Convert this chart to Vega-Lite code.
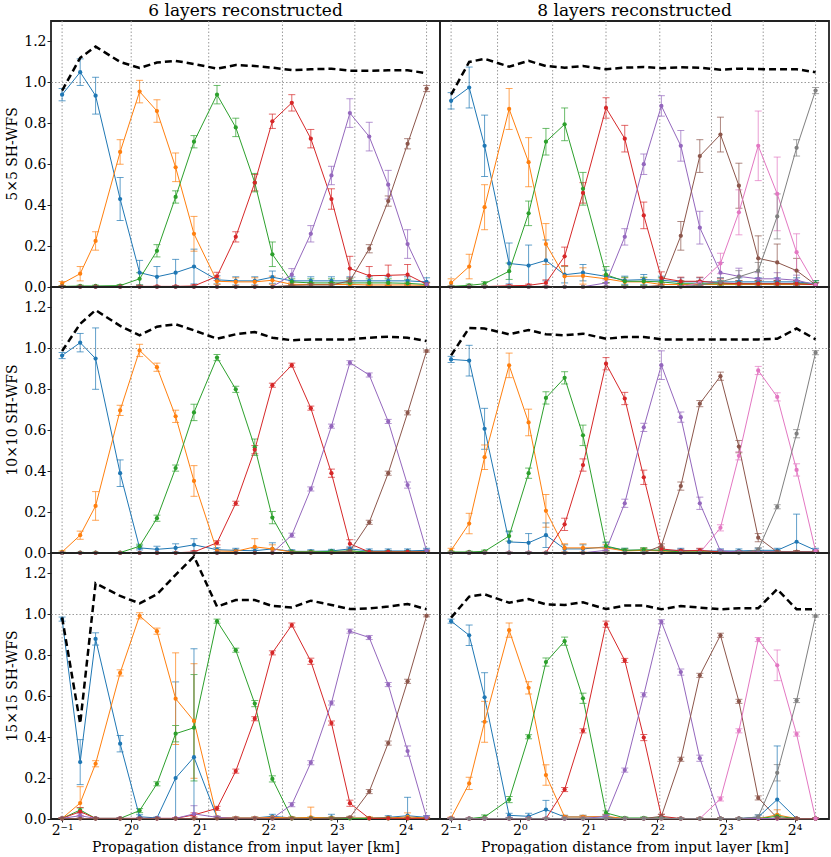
{
  "$schema": "https://vega.github.io/schema/vega-lite/v6.json",
  "padding": {"left": 5, "top": 2, "right": 0, "bottom": 0},
  "bounds": "flush",
  "background": "white",
  "config": {
    "font": "DejaVu Serif",
    "view": {"stroke": "#222222", "strokeWidth": 1.8},
    "axis": {
      "labelFont": "DejaVu Serif", "labelFontSize": 14, "labelColor": "black",
      "titleFont": "DejaVu Serif", "titleFontSize": 14, "titleFontWeight": "normal", "titleColor": "black",
      "tickColor": "#222222", "tickSize": 4, "labelPadding": 1, "domain": false, "minExtent": 0
    }
  },
  "data": {"values": [
{"w":5,"n":6,"s":1,"x":0.5,"y":0.94,"e":0.03},{"w":5,"n":6,"s":1,"x":0.6,"y":1.05,"e":0.065},{"w":5,"n":6,"s":1,"x":0.701,"y":0.935,"e":0.09},{"w":5,"n":6,"s":1,"x":0.898,"y":0.43,"e":0.105},{"w":5,"n":6,"s":1,"x":1.093,"y":0.07,"e":0.06},{"w":5,"n":6,"s":1,"x":1.302,"y":0.05,"e":0.05},{"w":5,"n":6,"s":1,"x":1.572,"y":0.07,"e":0.065},{"w":5,"n":6,"s":1,"x":1.892,"y":0.1,"e":0.085},{"w":5,"n":6,"s":1,"x":2.387,"y":0.035,"e":0.02},{"w":5,"n":6,"s":1,"x":2.884,"y":0.03,"e":0.02},{"w":5,"n":6,"s":1,"x":3.494,"y":0.03,"e":0.02},{"w":5,"n":6,"s":1,"x":4.173,"y":0.048,"e":0.03},{"w":5,"n":6,"s":1,"x":5.077,"y":0.03,"e":0.02},{"w":5,"n":6,"s":1,"x":6.151,"y":0.03,"e":0.02},{"w":5,"n":6,"s":1,"x":7.574,"y":0.03,"e":0.02},{"w":5,"n":6,"s":1,"x":9.124,"y":0.03,"e":0.02},{"w":5,"n":6,"s":1,"x":11.09,"y":0.03,"e":0.02},{"w":5,"n":6,"s":1,"x":13.43,"y":0.03,"e":0.02},{"w":5,"n":6,"s":1,"x":16.33,"y":0.03,"e":0.02},{"w":5,"n":6,"s":1,"x":19.78,"y":0.025,"e":0.02},
{"w":5,"n":6,"s":2,"x":0.5,"y":0.017,"e":0.01},{"w":5,"n":6,"s":2,"x":0.6,"y":0.065,"e":0.035},{"w":5,"n":6,"s":2,"x":0.701,"y":0.225,"e":0.045},{"w":5,"n":6,"s":2,"x":0.898,"y":0.66,"e":0.06},{"w":5,"n":6,"s":2,"x":1.093,"y":0.955,"e":0.055},{"w":5,"n":6,"s":2,"x":1.302,"y":0.86,"e":0.055},{"w":5,"n":6,"s":2,"x":1.572,"y":0.585,"e":0.07},{"w":5,"n":6,"s":2,"x":1.892,"y":0.26,"e":0.085},{"w":5,"n":6,"s":2,"x":2.387,"y":0.028,"e":0.015},{"w":5,"n":6,"s":2,"x":2.884,"y":0.025,"e":0.02},{"w":5,"n":6,"s":2,"x":3.494,"y":0.025,"e":0.02},{"w":5,"n":6,"s":2,"x":4.173,"y":0.033,"e":0.02},{"w":5,"n":6,"s":2,"x":5.077,"y":0.013,"e":0.01},{"w":5,"n":6,"s":2,"x":6.151,"y":0.012,"e":0.01},{"w":5,"n":6,"s":2,"x":7.574,"y":0.012,"e":0.01},{"w":5,"n":6,"s":2,"x":9.124,"y":0.012,"e":0.01},{"w":5,"n":6,"s":2,"x":11.09,"y":0.01,"e":0.01},{"w":5,"n":6,"s":2,"x":13.43,"y":0.01,"e":0.01},{"w":5,"n":6,"s":2,"x":16.33,"y":0.01,"e":0.01},{"w":5,"n":6,"s":2,"x":19.78,"y":0.008,"e":0.008},
{"w":5,"n":6,"s":3,"x":0.5,"y":0.003,"e":0.003},{"w":5,"n":6,"s":3,"x":0.6,"y":0.005,"e":0.004},{"w":5,"n":6,"s":3,"x":0.701,"y":0.005,"e":0.004},{"w":5,"n":6,"s":3,"x":0.898,"y":0.007,"e":0.005},{"w":5,"n":6,"s":3,"x":1.093,"y":0.04,"e":0.03},{"w":5,"n":6,"s":3,"x":1.302,"y":0.177,"e":0.03},{"w":5,"n":6,"s":3,"x":1.572,"y":0.44,"e":0.03},{"w":5,"n":6,"s":3,"x":1.892,"y":0.71,"e":0.03},{"w":5,"n":6,"s":3,"x":2.387,"y":0.94,"e":0.045},{"w":5,"n":6,"s":3,"x":2.884,"y":0.78,"e":0.045},{"w":5,"n":6,"s":3,"x":3.494,"y":0.51,"e":0.045},{"w":5,"n":6,"s":3,"x":4.173,"y":0.16,"e":0.06},{"w":5,"n":6,"s":3,"x":5.077,"y":0.025,"e":0.015},{"w":5,"n":6,"s":3,"x":6.151,"y":0.02,"e":0.02},{"w":5,"n":6,"s":3,"x":7.574,"y":0.02,"e":0.02},{"w":5,"n":6,"s":3,"x":9.124,"y":0.02,"e":0.02},{"w":5,"n":6,"s":3,"x":11.09,"y":0.02,"e":0.02},{"w":5,"n":6,"s":3,"x":13.43,"y":0.02,"e":0.02},{"w":5,"n":6,"s":3,"x":16.33,"y":0.018,"e":0.02},{"w":5,"n":6,"s":3,"x":19.78,"y":0.012,"e":0.01},
{"w":5,"n":6,"s":4,"x":0.5,"y":0.002,"e":0.002},{"w":5,"n":6,"s":4,"x":0.6,"y":0.002,"e":0.002},{"w":5,"n":6,"s":4,"x":0.701,"y":0.002,"e":0.002},{"w":5,"n":6,"s":4,"x":0.898,"y":0.002,"e":0.002},{"w":5,"n":6,"s":4,"x":1.093,"y":0.003,"e":0.003},{"w":5,"n":6,"s":4,"x":1.302,"y":0.003,"e":0.003},{"w":5,"n":6,"s":4,"x":1.572,"y":0.003,"e":0.003},{"w":5,"n":6,"s":4,"x":1.892,"y":0.005,"e":0.005},{"w":5,"n":6,"s":4,"x":2.387,"y":0.052,"e":0.02},{"w":5,"n":6,"s":4,"x":2.884,"y":0.245,"e":0.025},{"w":5,"n":6,"s":4,"x":3.494,"y":0.51,"e":0.04},{"w":5,"n":6,"s":4,"x":4.173,"y":0.81,"e":0.035},{"w":5,"n":6,"s":4,"x":5.077,"y":0.9,"e":0.04},{"w":5,"n":6,"s":4,"x":6.151,"y":0.725,"e":0.045},{"w":5,"n":6,"s":4,"x":7.574,"y":0.43,"e":0.05},{"w":5,"n":6,"s":4,"x":9.124,"y":0.09,"e":0.06},{"w":5,"n":6,"s":4,"x":11.09,"y":0.055,"e":0.045},{"w":5,"n":6,"s":4,"x":13.43,"y":0.057,"e":0.05},{"w":5,"n":6,"s":4,"x":16.33,"y":0.06,"e":0.05},{"w":5,"n":6,"s":4,"x":19.78,"y":0.013,"e":0.01},
{"w":5,"n":6,"s":5,"x":0.5,"y":0.001,"e":0.001},{"w":5,"n":6,"s":5,"x":0.6,"y":0.001,"e":0.001},{"w":5,"n":6,"s":5,"x":0.701,"y":0.001,"e":0.001},{"w":5,"n":6,"s":5,"x":0.898,"y":0.001,"e":0.001},{"w":5,"n":6,"s":5,"x":1.093,"y":0.001,"e":0.001},{"w":5,"n":6,"s":5,"x":1.302,"y":0.001,"e":0.001},{"w":5,"n":6,"s":5,"x":1.572,"y":0.001,"e":0.001},{"w":5,"n":6,"s":5,"x":1.892,"y":0.001,"e":0.001},{"w":5,"n":6,"s":5,"x":2.387,"y":0.001,"e":0.001},{"w":5,"n":6,"s":5,"x":2.884,"y":0.001,"e":0.001},{"w":5,"n":6,"s":5,"x":3.494,"y":0.001,"e":0.001},{"w":5,"n":6,"s":5,"x":4.173,"y":0.001,"e":0.001},{"w":5,"n":6,"s":5,"x":5.077,"y":0.06,"e":0.03},{"w":5,"n":6,"s":5,"x":6.151,"y":0.26,"e":0.04},{"w":5,"n":6,"s":5,"x":7.574,"y":0.545,"e":0.045},{"w":5,"n":6,"s":5,"x":9.124,"y":0.85,"e":0.07},{"w":5,"n":6,"s":5,"x":11.09,"y":0.735,"e":0.07},{"w":5,"n":6,"s":5,"x":13.43,"y":0.5,"e":0.07},{"w":5,"n":6,"s":5,"x":16.33,"y":0.21,"e":0.07},{"w":5,"n":6,"s":5,"x":19.78,"y":0.013,"e":0.01},
{"w":5,"n":6,"s":6,"x":0.5,"y":0.001,"e":0.001},{"w":5,"n":6,"s":6,"x":0.6,"y":0.001,"e":0.001},{"w":5,"n":6,"s":6,"x":0.701,"y":0.001,"e":0.001},{"w":5,"n":6,"s":6,"x":0.898,"y":0.001,"e":0.001},{"w":5,"n":6,"s":6,"x":1.093,"y":0.001,"e":0.001},{"w":5,"n":6,"s":6,"x":1.302,"y":0.001,"e":0.001},{"w":5,"n":6,"s":6,"x":1.572,"y":0.001,"e":0.001},{"w":5,"n":6,"s":6,"x":1.892,"y":0.001,"e":0.001},{"w":5,"n":6,"s":6,"x":2.387,"y":0.001,"e":0.001},{"w":5,"n":6,"s":6,"x":2.884,"y":0.001,"e":0.001},{"w":5,"n":6,"s":6,"x":3.494,"y":0.001,"e":0.001},{"w":5,"n":6,"s":6,"x":4.173,"y":0.001,"e":0.001},{"w":5,"n":6,"s":6,"x":5.077,"y":0.008,"e":0.005},{"w":5,"n":6,"s":6,"x":6.151,"y":0.01,"e":0.008},{"w":5,"n":6,"s":6,"x":7.574,"y":0.01,"e":0.01},{"w":5,"n":6,"s":6,"x":9.124,"y":0.03,"e":0.015},{"w":5,"n":6,"s":6,"x":11.09,"y":0.187,"e":0.02},{"w":5,"n":6,"s":6,"x":13.43,"y":0.42,"e":0.025},{"w":5,"n":6,"s":6,"x":16.33,"y":0.7,"e":0.025},{"w":5,"n":6,"s":6,"x":19.78,"y":0.97,"e":0.015},
{"w":5,"n":6,"s":0,"x":0.5,"y":0.96},{"w":5,"n":6,"s":0,"x":0.6,"y":1.12},{"w":5,"n":6,"s":0,"x":0.701,"y":1.175},{"w":5,"n":6,"s":0,"x":0.898,"y":1.1},{"w":5,"n":6,"s":0,"x":1.093,"y":1.07},{"w":5,"n":6,"s":0,"x":1.302,"y":1.097},{"w":5,"n":6,"s":0,"x":1.572,"y":1.105},{"w":5,"n":6,"s":0,"x":1.892,"y":1.09},{"w":5,"n":6,"s":0,"x":2.387,"y":1.067},{"w":5,"n":6,"s":0,"x":2.884,"y":1.085},{"w":5,"n":6,"s":0,"x":3.494,"y":1.08},{"w":5,"n":6,"s":0,"x":4.173,"y":1.072},{"w":5,"n":6,"s":0,"x":5.077,"y":1.06},{"w":5,"n":6,"s":0,"x":6.151,"y":1.064},{"w":5,"n":6,"s":0,"x":7.574,"y":1.067},{"w":5,"n":6,"s":0,"x":9.124,"y":1.057},{"w":5,"n":6,"s":0,"x":11.09,"y":1.057},{"w":5,"n":6,"s":0,"x":13.43,"y":1.059},{"w":5,"n":6,"s":0,"x":16.33,"y":1.059},{"w":5,"n":6,"s":0,"x":19.78,"y":1.045},

{"w":5,"n":8,"s":1,"x":0.5,"y":0.91,"e":0.04},{"w":5,"n":8,"s":1,"x":0.6,"y":0.975,"e":0.1},{"w":5,"n":8,"s":1,"x":0.701,"y":0.69,"e":0.15},{"w":5,"n":8,"s":1,"x":0.898,"y":0.115,"e":0.1},{"w":5,"n":8,"s":1,"x":1.093,"y":0.105,"e":0.1},{"w":5,"n":8,"s":1,"x":1.302,"y":0.13,"e":0.1},{"w":5,"n":8,"s":1,"x":1.572,"y":0.06,"e":0.04},{"w":5,"n":8,"s":1,"x":1.892,"y":0.07,"e":0.04},{"w":5,"n":8,"s":1,"x":2.387,"y":0.052,"e":0.03},{"w":5,"n":8,"s":1,"x":2.884,"y":0.033,"e":0.02},{"w":5,"n":8,"s":1,"x":3.494,"y":0.036,"e":0.025},{"w":5,"n":8,"s":1,"x":4.173,"y":0.033,"e":0.02},{"w":5,"n":8,"s":1,"x":5.077,"y":0.025,"e":0.02},{"w":5,"n":8,"s":1,"x":6.151,"y":0.025,"e":0.02},{"w":5,"n":8,"s":1,"x":7.574,"y":0.025,"e":0.02},{"w":5,"n":8,"s":1,"x":9.124,"y":0.025,"e":0.02},{"w":5,"n":8,"s":1,"x":11.09,"y":0.025,"e":0.02},{"w":5,"n":8,"s":1,"x":13.43,"y":0.025,"e":0.02},{"w":5,"n":8,"s":1,"x":16.33,"y":0.025,"e":0.02},{"w":5,"n":8,"s":1,"x":19.78,"y":0.016,"e":0.015},
{"w":5,"n":8,"s":2,"x":0.5,"y":0.02,"e":0.02},{"w":5,"n":8,"s":2,"x":0.6,"y":0.1,"e":0.06},{"w":5,"n":8,"s":2,"x":0.701,"y":0.39,"e":0.11},{"w":5,"n":8,"s":2,"x":0.898,"y":0.87,"e":0.1},{"w":5,"n":8,"s":2,"x":1.093,"y":0.61,"e":0.12},{"w":5,"n":8,"s":2,"x":1.302,"y":0.21,"e":0.1},{"w":5,"n":8,"s":2,"x":1.572,"y":0.052,"e":0.05},{"w":5,"n":8,"s":2,"x":1.892,"y":0.054,"e":0.04},{"w":5,"n":8,"s":2,"x":2.387,"y":0.04,"e":0.02},{"w":5,"n":8,"s":2,"x":2.884,"y":0.025,"e":0.02},{"w":5,"n":8,"s":2,"x":3.494,"y":0.025,"e":0.02},{"w":5,"n":8,"s":2,"x":4.173,"y":0.012,"e":0.01},{"w":5,"n":8,"s":2,"x":5.077,"y":0.012,"e":0.01},{"w":5,"n":8,"s":2,"x":6.151,"y":0.012,"e":0.01},{"w":5,"n":8,"s":2,"x":7.574,"y":0.012,"e":0.01},{"w":5,"n":8,"s":2,"x":9.124,"y":0.012,"e":0.01},{"w":5,"n":8,"s":2,"x":11.09,"y":0.012,"e":0.01},{"w":5,"n":8,"s":2,"x":13.43,"y":0.012,"e":0.01},{"w":5,"n":8,"s":2,"x":16.33,"y":0.012,"e":0.01},{"w":5,"n":8,"s":2,"x":19.78,"y":0.012,"e":0.01},
{"w":5,"n":8,"s":3,"x":0.5,"y":0.003,"e":0.003},{"w":5,"n":8,"s":3,"x":0.6,"y":0.008,"e":0.006},{"w":5,"n":8,"s":3,"x":0.701,"y":0.016,"e":0.01},{"w":5,"n":8,"s":3,"x":0.898,"y":0.077,"e":0.04},{"w":5,"n":8,"s":3,"x":1.093,"y":0.36,"e":0.06},{"w":5,"n":8,"s":3,"x":1.302,"y":0.71,"e":0.065},{"w":5,"n":8,"s":3,"x":1.572,"y":0.795,"e":0.08},{"w":5,"n":8,"s":3,"x":1.892,"y":0.48,"e":0.08},{"w":5,"n":8,"s":3,"x":2.387,"y":0.06,"e":0.04},{"w":5,"n":8,"s":3,"x":2.884,"y":0.028,"e":0.02},{"w":5,"n":8,"s":3,"x":3.494,"y":0.028,"e":0.02},{"w":5,"n":8,"s":3,"x":4.173,"y":0.025,"e":0.02},{"w":5,"n":8,"s":3,"x":5.077,"y":0.016,"e":0.015},{"w":5,"n":8,"s":3,"x":6.151,"y":0.016,"e":0.015},{"w":5,"n":8,"s":3,"x":7.574,"y":0.016,"e":0.015},{"w":5,"n":8,"s":3,"x":9.124,"y":0.016,"e":0.015},{"w":5,"n":8,"s":3,"x":11.09,"y":0.016,"e":0.015},{"w":5,"n":8,"s":3,"x":13.43,"y":0.016,"e":0.015},{"w":5,"n":8,"s":3,"x":16.33,"y":0.016,"e":0.015},{"w":5,"n":8,"s":3,"x":19.78,"y":0.016,"e":0.015},
{"w":5,"n":8,"s":4,"x":0.5,"y":0.002,"e":0.002},{"w":5,"n":8,"s":4,"x":0.6,"y":0.002,"e":0.002},{"w":5,"n":8,"s":4,"x":0.701,"y":0.002,"e":0.002},{"w":5,"n":8,"s":4,"x":0.898,"y":0.006,"e":0.004},{"w":5,"n":8,"s":4,"x":1.093,"y":0.008,"e":0.006},{"w":5,"n":8,"s":4,"x":1.302,"y":0.02,"e":0.015},{"w":5,"n":8,"s":4,"x":1.572,"y":0.15,"e":0.045},{"w":5,"n":8,"s":4,"x":1.892,"y":0.46,"e":0.05},{"w":5,"n":8,"s":4,"x":2.387,"y":0.875,"e":0.05},{"w":5,"n":8,"s":4,"x":2.884,"y":0.725,"e":0.065},{"w":5,"n":8,"s":4,"x":3.494,"y":0.35,"e":0.065},{"w":5,"n":8,"s":4,"x":4.173,"y":0.044,"e":0.03},{"w":5,"n":8,"s":4,"x":5.077,"y":0.028,"e":0.02},{"w":5,"n":8,"s":4,"x":6.151,"y":0.028,"e":0.02},{"w":5,"n":8,"s":4,"x":7.574,"y":0.02,"e":0.02},{"w":5,"n":8,"s":4,"x":9.124,"y":0.016,"e":0.015},{"w":5,"n":8,"s":4,"x":11.09,"y":0.016,"e":0.015},{"w":5,"n":8,"s":4,"x":13.43,"y":0.016,"e":0.015},{"w":5,"n":8,"s":4,"x":16.33,"y":0.016,"e":0.015},{"w":5,"n":8,"s":4,"x":19.78,"y":0.011,"e":0.01},
{"w":5,"n":8,"s":5,"x":0.5,"y":0.001,"e":0.001},{"w":5,"n":8,"s":5,"x":0.6,"y":0.001,"e":0.001},{"w":5,"n":8,"s":5,"x":0.701,"y":0.001,"e":0.001},{"w":5,"n":8,"s":5,"x":0.898,"y":0.001,"e":0.001},{"w":5,"n":8,"s":5,"x":1.093,"y":0.001,"e":0.001},{"w":5,"n":8,"s":5,"x":1.302,"y":0.001,"e":0.001},{"w":5,"n":8,"s":5,"x":1.572,"y":0.001,"e":0.001},{"w":5,"n":8,"s":5,"x":1.892,"y":0.001,"e":0.001},{"w":5,"n":8,"s":5,"x":2.387,"y":0.02,"e":0.015},{"w":5,"n":8,"s":5,"x":2.884,"y":0.245,"e":0.04},{"w":5,"n":8,"s":5,"x":3.494,"y":0.6,"e":0.05},{"w":5,"n":8,"s":5,"x":4.173,"y":0.885,"e":0.05},{"w":5,"n":8,"s":5,"x":5.077,"y":0.69,"e":0.075},{"w":5,"n":8,"s":5,"x":6.151,"y":0.29,"e":0.08},{"w":5,"n":8,"s":5,"x":7.574,"y":0.07,"e":0.05},{"w":5,"n":8,"s":5,"x":9.124,"y":0.052,"e":0.04},{"w":5,"n":8,"s":5,"x":11.09,"y":0.04,"e":0.03},{"w":5,"n":8,"s":5,"x":13.43,"y":0.04,"e":0.03},{"w":5,"n":8,"s":5,"x":16.33,"y":0.033,"e":0.025},{"w":5,"n":8,"s":5,"x":19.78,"y":0.011,"e":0.01},
{"w":5,"n":8,"s":6,"x":0.5,"y":0.001,"e":0.001},{"w":5,"n":8,"s":6,"x":0.6,"y":0.001,"e":0.001},{"w":5,"n":8,"s":6,"x":0.701,"y":0.001,"e":0.001},{"w":5,"n":8,"s":6,"x":0.898,"y":0.001,"e":0.001},{"w":5,"n":8,"s":6,"x":1.093,"y":0.001,"e":0.001},{"w":5,"n":8,"s":6,"x":1.302,"y":0.001,"e":0.001},{"w":5,"n":8,"s":6,"x":1.572,"y":0.001,"e":0.001},{"w":5,"n":8,"s":6,"x":1.892,"y":0.001,"e":0.001},{"w":5,"n":8,"s":6,"x":2.387,"y":0.001,"e":0.001},{"w":5,"n":8,"s":6,"x":2.884,"y":0.001,"e":0.001},{"w":5,"n":8,"s":6,"x":3.494,"y":0.001,"e":0.001},{"w":5,"n":8,"s":6,"x":4.173,"y":0.008,"e":0.005},{"w":5,"n":8,"s":6,"x":5.077,"y":0.25,"e":0.07},{"w":5,"n":8,"s":6,"x":6.151,"y":0.64,"e":0.08},{"w":5,"n":8,"s":6,"x":7.574,"y":0.745,"e":0.085},{"w":5,"n":8,"s":6,"x":9.124,"y":0.495,"e":0.11},{"w":5,"n":8,"s":6,"x":11.09,"y":0.14,"e":0.11},{"w":5,"n":8,"s":6,"x":13.43,"y":0.12,"e":0.09},{"w":5,"n":8,"s":6,"x":16.33,"y":0.08,"e":0.06},{"w":5,"n":8,"s":6,"x":19.78,"y":0.011,"e":0.01},
{"w":5,"n":8,"s":7,"x":0.5,"y":0.001,"e":0.001},{"w":5,"n":8,"s":7,"x":0.6,"y":0.001,"e":0.001},{"w":5,"n":8,"s":7,"x":0.701,"y":0.001,"e":0.001},{"w":5,"n":8,"s":7,"x":0.898,"y":0.001,"e":0.001},{"w":5,"n":8,"s":7,"x":1.093,"y":0.001,"e":0.001},{"w":5,"n":8,"s":7,"x":1.302,"y":0.001,"e":0.001},{"w":5,"n":8,"s":7,"x":1.572,"y":0.001,"e":0.001},{"w":5,"n":8,"s":7,"x":1.892,"y":0.001,"e":0.001},{"w":5,"n":8,"s":7,"x":2.387,"y":0.001,"e":0.001},{"w":5,"n":8,"s":7,"x":2.884,"y":0.001,"e":0.001},{"w":5,"n":8,"s":7,"x":3.494,"y":0.001,"e":0.001},{"w":5,"n":8,"s":7,"x":4.173,"y":0.001,"e":0.001},{"w":5,"n":8,"s":7,"x":5.077,"y":0.001,"e":0.001},{"w":5,"n":8,"s":7,"x":6.151,"y":0.02,"e":0.01},{"w":5,"n":8,"s":7,"x":7.574,"y":0.115,"e":0.05},{"w":5,"n":8,"s":7,"x":9.124,"y":0.365,"e":0.11},{"w":5,"n":8,"s":7,"x":11.09,"y":0.69,"e":0.17},{"w":5,"n":8,"s":7,"x":13.43,"y":0.455,"e":0.18},{"w":5,"n":8,"s":7,"x":16.33,"y":0.17,"e":0.09},{"w":5,"n":8,"s":7,"x":19.78,"y":0.01,"e":0.01},
{"w":5,"n":8,"s":8,"x":0.5,"y":0.001,"e":0.001},{"w":5,"n":8,"s":8,"x":0.6,"y":0.001,"e":0.001},{"w":5,"n":8,"s":8,"x":0.701,"y":0.001,"e":0.001},{"w":5,"n":8,"s":8,"x":0.898,"y":0.001,"e":0.001},{"w":5,"n":8,"s":8,"x":1.093,"y":0.001,"e":0.001},{"w":5,"n":8,"s":8,"x":1.302,"y":0.001,"e":0.001},{"w":5,"n":8,"s":8,"x":1.572,"y":0.001,"e":0.001},{"w":5,"n":8,"s":8,"x":1.892,"y":0.001,"e":0.001},{"w":5,"n":8,"s":8,"x":2.387,"y":0.001,"e":0.001},{"w":5,"n":8,"s":8,"x":2.884,"y":0.001,"e":0.001},{"w":5,"n":8,"s":8,"x":3.494,"y":0.001,"e":0.001},{"w":5,"n":8,"s":8,"x":4.173,"y":0.001,"e":0.001},{"w":5,"n":8,"s":8,"x":5.077,"y":0.001,"e":0.001},{"w":5,"n":8,"s":8,"x":6.151,"y":0.01,"e":0.01},{"w":5,"n":8,"s":8,"x":7.574,"y":0.025,"e":0.02},{"w":5,"n":8,"s":8,"x":9.124,"y":0.05,"e":0.03},{"w":5,"n":8,"s":8,"x":11.09,"y":0.08,"e":0.04},{"w":5,"n":8,"s":8,"x":13.43,"y":0.345,"e":0.11},{"w":5,"n":8,"s":8,"x":16.33,"y":0.68,"e":0.04},{"w":5,"n":8,"s":8,"x":19.78,"y":0.96,"e":0.015},
{"w":5,"n":8,"s":0,"x":0.5,"y":0.94},{"w":5,"n":8,"s":0,"x":0.6,"y":1.1},{"w":5,"n":8,"s":0,"x":0.701,"y":1.115},{"w":5,"n":8,"s":0,"x":0.898,"y":1.077},{"w":5,"n":8,"s":0,"x":1.093,"y":1.105},{"w":5,"n":8,"s":0,"x":1.302,"y":1.08},{"w":5,"n":8,"s":0,"x":1.572,"y":1.072},{"w":5,"n":8,"s":0,"x":1.892,"y":1.08},{"w":5,"n":8,"s":0,"x":2.387,"y":1.064},{"w":5,"n":8,"s":0,"x":2.884,"y":1.072},{"w":5,"n":8,"s":0,"x":3.494,"y":1.075},{"w":5,"n":8,"s":0,"x":4.173,"y":1.069},{"w":5,"n":8,"s":0,"x":5.077,"y":1.074},{"w":5,"n":8,"s":0,"x":6.151,"y":1.072},{"w":5,"n":8,"s":0,"x":7.574,"y":1.062},{"w":5,"n":8,"s":0,"x":9.124,"y":1.067},{"w":5,"n":8,"s":0,"x":11.09,"y":1.065},{"w":5,"n":8,"s":0,"x":13.43,"y":1.064},{"w":5,"n":8,"s":0,"x":16.33,"y":1.064},{"w":5,"n":8,"s":0,"x":19.78,"y":1.05},

{"w":10,"n":6,"s":1,"x":0.5,"y":0.965,"e":0.015},{"w":10,"n":6,"s":1,"x":0.6,"y":1.028,"e":0.045},{"w":10,"n":6,"s":1,"x":0.701,"y":0.95,"e":0.15},{"w":10,"n":6,"s":1,"x":0.898,"y":0.39,"e":0.065},{"w":10,"n":6,"s":1,"x":1.093,"y":0.025,"e":0.01},{"w":10,"n":6,"s":1,"x":1.302,"y":0.018,"e":0.015},{"w":10,"n":6,"s":1,"x":1.572,"y":0.025,"e":0.02},{"w":10,"n":6,"s":1,"x":1.892,"y":0.04,"e":0.03},{"w":10,"n":6,"s":1,"x":2.387,"y":0.016,"e":0.01},{"w":10,"n":6,"s":1,"x":2.884,"y":0.013,"e":0.01},{"w":10,"n":6,"s":1,"x":3.494,"y":0.011,"e":0.01},{"w":10,"n":6,"s":1,"x":4.173,"y":0.02,"e":0.03},{"w":10,"n":6,"s":1,"x":5.077,"y":0.008,"e":0.008},{"w":10,"n":6,"s":1,"x":6.151,"y":0.008,"e":0.008},{"w":10,"n":6,"s":1,"x":7.574,"y":0.01,"e":0.008},{"w":10,"n":6,"s":1,"x":9.124,"y":0.02,"e":0.01},{"w":10,"n":6,"s":1,"x":11.09,"y":0.01,"e":0.01},{"w":10,"n":6,"s":1,"x":13.43,"y":0.01,"e":0.01},{"w":10,"n":6,"s":1,"x":16.33,"y":0.01,"e":0.01},{"w":10,"n":6,"s":1,"x":19.78,"y":0.013,"e":0.01},
{"w":10,"n":6,"s":2,"x":0.5,"y":0.005,"e":0.005},{"w":10,"n":6,"s":2,"x":0.6,"y":0.087,"e":0.02},{"w":10,"n":6,"s":2,"x":0.701,"y":0.23,"e":0.07},{"w":10,"n":6,"s":2,"x":0.898,"y":0.697,"e":0.025},{"w":10,"n":6,"s":2,"x":1.093,"y":0.99,"e":0.03},{"w":10,"n":6,"s":2,"x":1.302,"y":0.908,"e":0.02},{"w":10,"n":6,"s":2,"x":1.572,"y":0.668,"e":0.03},{"w":10,"n":6,"s":2,"x":1.892,"y":0.352,"e":0.075},{"w":10,"n":6,"s":2,"x":2.387,"y":0.01,"e":0.008},{"w":10,"n":6,"s":2,"x":2.884,"y":0.008,"e":0.008},{"w":10,"n":6,"s":2,"x":3.494,"y":0.03,"e":0.04},{"w":10,"n":6,"s":2,"x":4.173,"y":0.02,"e":0.02},{"w":10,"n":6,"s":2,"x":5.077,"y":0.005,"e":0.005},{"w":10,"n":6,"s":2,"x":6.151,"y":0.005,"e":0.005},{"w":10,"n":6,"s":2,"x":7.574,"y":0.005,"e":0.005},{"w":10,"n":6,"s":2,"x":9.124,"y":0.005,"e":0.005},{"w":10,"n":6,"s":2,"x":11.09,"y":0.005,"e":0.005},{"w":10,"n":6,"s":2,"x":13.43,"y":0.005,"e":0.005},{"w":10,"n":6,"s":2,"x":16.33,"y":0.005,"e":0.005},{"w":10,"n":6,"s":2,"x":19.78,"y":0.005,"e":0.005},
{"w":10,"n":6,"s":3,"x":0.5,"y":0.002,"e":0.002},{"w":10,"n":6,"s":3,"x":0.6,"y":0.002,"e":0.002},{"w":10,"n":6,"s":3,"x":0.701,"y":0.002,"e":0.002},{"w":10,"n":6,"s":3,"x":0.898,"y":0.002,"e":0.002},{"w":10,"n":6,"s":3,"x":1.093,"y":0.033,"e":0.01},{"w":10,"n":6,"s":3,"x":1.302,"y":0.17,"e":0.015},{"w":10,"n":6,"s":3,"x":1.572,"y":0.415,"e":0.015},{"w":10,"n":6,"s":3,"x":1.892,"y":0.687,"e":0.04},{"w":10,"n":6,"s":3,"x":2.387,"y":0.955,"e":0.015},{"w":10,"n":6,"s":3,"x":2.884,"y":0.8,"e":0.015},{"w":10,"n":6,"s":3,"x":3.494,"y":0.517,"e":0.04},{"w":10,"n":6,"s":3,"x":4.173,"y":0.173,"e":0.03},{"w":10,"n":6,"s":3,"x":5.077,"y":0.005,"e":0.005},{"w":10,"n":6,"s":3,"x":6.151,"y":0.005,"e":0.005},{"w":10,"n":6,"s":3,"x":7.574,"y":0.008,"e":0.005},{"w":10,"n":6,"s":3,"x":9.124,"y":0.01,"e":0.008},{"w":10,"n":6,"s":3,"x":11.09,"y":0.005,"e":0.005},{"w":10,"n":6,"s":3,"x":13.43,"y":0.005,"e":0.005},{"w":10,"n":6,"s":3,"x":16.33,"y":0.005,"e":0.005},{"w":10,"n":6,"s":3,"x":19.78,"y":0.005,"e":0.005},
{"w":10,"n":6,"s":4,"x":0.5,"y":0.001,"e":0.001},{"w":10,"n":6,"s":4,"x":0.6,"y":0.001,"e":0.001},{"w":10,"n":6,"s":4,"x":0.701,"y":0.001,"e":0.001},{"w":10,"n":6,"s":4,"x":0.898,"y":0.001,"e":0.001},{"w":10,"n":6,"s":4,"x":1.093,"y":0.001,"e":0.001},{"w":10,"n":6,"s":4,"x":1.302,"y":0.001,"e":0.001},{"w":10,"n":6,"s":4,"x":1.572,"y":0.001,"e":0.001},{"w":10,"n":6,"s":4,"x":1.892,"y":0.005,"e":0.005},{"w":10,"n":6,"s":4,"x":2.387,"y":0.05,"e":0.01},{"w":10,"n":6,"s":4,"x":2.884,"y":0.243,"e":0.01},{"w":10,"n":6,"s":4,"x":3.494,"y":0.505,"e":0.02},{"w":10,"n":6,"s":4,"x":4.173,"y":0.82,"e":0.01},{"w":10,"n":6,"s":4,"x":5.077,"y":0.918,"e":0.01},{"w":10,"n":6,"s":4,"x":6.151,"y":0.708,"e":0.01},{"w":10,"n":6,"s":4,"x":7.574,"y":0.39,"e":0.02},{"w":10,"n":6,"s":4,"x":9.124,"y":0.045,"e":0.02},{"w":10,"n":6,"s":4,"x":11.09,"y":0.005,"e":0.005},{"w":10,"n":6,"s":4,"x":13.43,"y":0.005,"e":0.005},{"w":10,"n":6,"s":4,"x":16.33,"y":0.005,"e":0.005},{"w":10,"n":6,"s":4,"x":19.78,"y":0.005,"e":0.005},
{"w":10,"n":6,"s":5,"x":0.5,"y":0.001,"e":0.001},{"w":10,"n":6,"s":5,"x":0.6,"y":0.001,"e":0.001},{"w":10,"n":6,"s":5,"x":0.701,"y":0.001,"e":0.001},{"w":10,"n":6,"s":5,"x":0.898,"y":0.001,"e":0.001},{"w":10,"n":6,"s":5,"x":1.093,"y":0.001,"e":0.001},{"w":10,"n":6,"s":5,"x":1.302,"y":0.001,"e":0.001},{"w":10,"n":6,"s":5,"x":1.572,"y":0.001,"e":0.001},{"w":10,"n":6,"s":5,"x":1.892,"y":0.001,"e":0.001},{"w":10,"n":6,"s":5,"x":2.387,"y":0.001,"e":0.001},{"w":10,"n":6,"s":5,"x":2.884,"y":0.001,"e":0.001},{"w":10,"n":6,"s":5,"x":3.494,"y":0.001,"e":0.001},{"w":10,"n":6,"s":5,"x":4.173,"y":0.001,"e":0.001},{"w":10,"n":6,"s":5,"x":5.077,"y":0.087,"e":0.01},{"w":10,"n":6,"s":5,"x":6.151,"y":0.313,"e":0.01},{"w":10,"n":6,"s":5,"x":7.574,"y":0.62,"e":0.01},{"w":10,"n":6,"s":5,"x":9.124,"y":0.93,"e":0.01},{"w":10,"n":6,"s":5,"x":11.09,"y":0.87,"e":0.01},{"w":10,"n":6,"s":5,"x":13.43,"y":0.643,"e":0.01},{"w":10,"n":6,"s":5,"x":16.33,"y":0.332,"e":0.015},{"w":10,"n":6,"s":5,"x":19.78,"y":0.01,"e":0.008},
{"w":10,"n":6,"s":6,"x":0.5,"y":0.001,"e":0.001},{"w":10,"n":6,"s":6,"x":0.6,"y":0.001,"e":0.001},{"w":10,"n":6,"s":6,"x":0.701,"y":0.001,"e":0.001},{"w":10,"n":6,"s":6,"x":0.898,"y":0.001,"e":0.001},{"w":10,"n":6,"s":6,"x":1.093,"y":0.001,"e":0.001},{"w":10,"n":6,"s":6,"x":1.302,"y":0.001,"e":0.001},{"w":10,"n":6,"s":6,"x":1.572,"y":0.001,"e":0.001},{"w":10,"n":6,"s":6,"x":1.892,"y":0.001,"e":0.001},{"w":10,"n":6,"s":6,"x":2.387,"y":0.001,"e":0.001},{"w":10,"n":6,"s":6,"x":2.884,"y":0.001,"e":0.001},{"w":10,"n":6,"s":6,"x":3.494,"y":0.001,"e":0.001},{"w":10,"n":6,"s":6,"x":4.173,"y":0.001,"e":0.001},{"w":10,"n":6,"s":6,"x":5.077,"y":0.001,"e":0.001},{"w":10,"n":6,"s":6,"x":6.151,"y":0.001,"e":0.001},{"w":10,"n":6,"s":6,"x":7.574,"y":0.001,"e":0.001},{"w":10,"n":6,"s":6,"x":9.124,"y":0.01,"e":0.005},{"w":10,"n":6,"s":6,"x":11.09,"y":0.15,"e":0.01},{"w":10,"n":6,"s":6,"x":13.43,"y":0.39,"e":0.01},{"w":10,"n":6,"s":6,"x":16.33,"y":0.685,"e":0.01},{"w":10,"n":6,"s":6,"x":19.78,"y":0.987,"e":0.005},
{"w":10,"n":6,"s":0,"x":0.5,"y":0.987},{"w":10,"n":6,"s":0,"x":0.6,"y":1.12},{"w":10,"n":6,"s":0,"x":0.701,"y":1.187},{"w":10,"n":6,"s":0,"x":0.898,"y":1.11},{"w":10,"n":6,"s":0,"x":1.093,"y":1.064},{"w":10,"n":6,"s":0,"x":1.302,"y":1.106},{"w":10,"n":6,"s":0,"x":1.572,"y":1.118},{"w":10,"n":6,"s":0,"x":1.892,"y":1.088},{"w":10,"n":6,"s":0,"x":2.387,"y":1.047},{"w":10,"n":6,"s":0,"x":2.884,"y":1.069},{"w":10,"n":6,"s":0,"x":3.494,"y":1.08},{"w":10,"n":6,"s":0,"x":4.173,"y":1.052},{"w":10,"n":6,"s":0,"x":5.077,"y":1.04},{"w":10,"n":6,"s":0,"x":6.151,"y":1.044},{"w":10,"n":6,"s":0,"x":7.574,"y":1.044},{"w":10,"n":6,"s":0,"x":9.124,"y":1.044},{"w":10,"n":6,"s":0,"x":11.09,"y":1.052},{"w":10,"n":6,"s":0,"x":13.43,"y":1.057},{"w":10,"n":6,"s":0,"x":16.33,"y":1.052},{"w":10,"n":6,"s":0,"x":19.78,"y":1.036},

{"w":10,"n":8,"s":1,"x":0.5,"y":0.946,"e":0.015},{"w":10,"n":8,"s":1,"x":0.6,"y":0.94,"e":0.075},{"w":10,"n":8,"s":1,"x":0.701,"y":0.607,"e":0.1},{"w":10,"n":8,"s":1,"x":0.898,"y":0.054,"e":0.05},{"w":10,"n":8,"s":1,"x":1.093,"y":0.05,"e":0.045},{"w":10,"n":8,"s":1,"x":1.302,"y":0.087,"e":0.06},{"w":10,"n":8,"s":1,"x":1.572,"y":0.02,"e":0.02},{"w":10,"n":8,"s":1,"x":1.892,"y":0.02,"e":0.02},{"w":10,"n":8,"s":1,"x":2.387,"y":0.03,"e":0.02},{"w":10,"n":8,"s":1,"x":2.884,"y":0.013,"e":0.01},{"w":10,"n":8,"s":1,"x":3.494,"y":0.013,"e":0.01},{"w":10,"n":8,"s":1,"x":4.173,"y":0.013,"e":0.01},{"w":10,"n":8,"s":1,"x":5.077,"y":0.013,"e":0.01},{"w":10,"n":8,"s":1,"x":6.151,"y":0.01,"e":0.01},{"w":10,"n":8,"s":1,"x":7.574,"y":0.01,"e":0.01},{"w":10,"n":8,"s":1,"x":9.124,"y":0.01,"e":0.01},{"w":10,"n":8,"s":1,"x":11.09,"y":0.013,"e":0.01},{"w":10,"n":8,"s":1,"x":13.43,"y":0.013,"e":0.01},{"w":10,"n":8,"s":1,"x":16.33,"y":0.055,"e":0.135},{"w":10,"n":8,"s":1,"x":19.78,"y":0.013,"e":0.01},
{"w":10,"n":8,"s":2,"x":0.5,"y":0.013,"e":0.01},{"w":10,"n":8,"s":2,"x":0.6,"y":0.144,"e":0.05},{"w":10,"n":8,"s":2,"x":0.701,"y":0.468,"e":0.06},{"w":10,"n":8,"s":2,"x":0.898,"y":0.917,"e":0.06},{"w":10,"n":8,"s":2,"x":1.093,"y":0.638,"e":0.065},{"w":10,"n":8,"s":2,"x":1.302,"y":0.206,"e":0.08},{"w":10,"n":8,"s":2,"x":1.572,"y":0.025,"e":0.02},{"w":10,"n":8,"s":2,"x":1.892,"y":0.025,"e":0.02},{"w":10,"n":8,"s":2,"x":2.387,"y":0.025,"e":0.015},{"w":10,"n":8,"s":2,"x":2.884,"y":0.01,"e":0.008},{"w":10,"n":8,"s":2,"x":3.494,"y":0.013,"e":0.01},{"w":10,"n":8,"s":2,"x":4.173,"y":0.01,"e":0.008},{"w":10,"n":8,"s":2,"x":5.077,"y":0.005,"e":0.005},{"w":10,"n":8,"s":2,"x":6.151,"y":0.005,"e":0.005},{"w":10,"n":8,"s":2,"x":7.574,"y":0.005,"e":0.005},{"w":10,"n":8,"s":2,"x":9.124,"y":0.005,"e":0.005},{"w":10,"n":8,"s":2,"x":11.09,"y":0.005,"e":0.005},{"w":10,"n":8,"s":2,"x":13.43,"y":0.005,"e":0.005},{"w":10,"n":8,"s":2,"x":16.33,"y":0.005,"e":0.005},{"w":10,"n":8,"s":2,"x":19.78,"y":0.005,"e":0.005},
{"w":10,"n":8,"s":3,"x":0.5,"y":0.005,"e":0.004},{"w":10,"n":8,"s":3,"x":0.6,"y":0.005,"e":0.004},{"w":10,"n":8,"s":3,"x":0.701,"y":0.008,"e":0.006},{"w":10,"n":8,"s":3,"x":0.898,"y":0.083,"e":0.025},{"w":10,"n":8,"s":3,"x":1.093,"y":0.39,"e":0.025},{"w":10,"n":8,"s":3,"x":1.302,"y":0.758,"e":0.03},{"w":10,"n":8,"s":3,"x":1.572,"y":0.856,"e":0.03},{"w":10,"n":8,"s":3,"x":1.892,"y":0.575,"e":0.05},{"w":10,"n":8,"s":3,"x":2.387,"y":0.034,"e":0.02},{"w":10,"n":8,"s":3,"x":2.884,"y":0.013,"e":0.01},{"w":10,"n":8,"s":3,"x":3.494,"y":0.016,"e":0.01},{"w":10,"n":8,"s":3,"x":4.173,"y":0.013,"e":0.01},{"w":10,"n":8,"s":3,"x":5.077,"y":0.005,"e":0.004},{"w":10,"n":8,"s":3,"x":6.151,"y":0.005,"e":0.004},{"w":10,"n":8,"s":3,"x":7.574,"y":0.005,"e":0.004},{"w":10,"n":8,"s":3,"x":9.124,"y":0.005,"e":0.004},{"w":10,"n":8,"s":3,"x":11.09,"y":0.005,"e":0.004},{"w":10,"n":8,"s":3,"x":13.43,"y":0.005,"e":0.004},{"w":10,"n":8,"s":3,"x":16.33,"y":0.005,"e":0.004},{"w":10,"n":8,"s":3,"x":19.78,"y":0.005,"e":0.004},
{"w":10,"n":8,"s":4,"x":0.5,"y":0.002,"e":0.002},{"w":10,"n":8,"s":4,"x":0.6,"y":0.002,"e":0.002},{"w":10,"n":8,"s":4,"x":0.701,"y":0.002,"e":0.002},{"w":10,"n":8,"s":4,"x":0.898,"y":0.002,"e":0.002},{"w":10,"n":8,"s":4,"x":1.093,"y":0.002,"e":0.002},{"w":10,"n":8,"s":4,"x":1.302,"y":0.002,"e":0.002},{"w":10,"n":8,"s":4,"x":1.572,"y":0.14,"e":0.03},{"w":10,"n":8,"s":4,"x":1.892,"y":0.43,"e":0.03},{"w":10,"n":8,"s":4,"x":2.387,"y":0.925,"e":0.03},{"w":10,"n":8,"s":4,"x":2.884,"y":0.755,"e":0.03},{"w":10,"n":8,"s":4,"x":3.494,"y":0.37,"e":0.035},{"w":10,"n":8,"s":4,"x":4.173,"y":0.02,"e":0.01},{"w":10,"n":8,"s":4,"x":5.077,"y":0.01,"e":0.008},{"w":10,"n":8,"s":4,"x":6.151,"y":0.013,"e":0.01},{"w":10,"n":8,"s":4,"x":7.574,"y":0.005,"e":0.004},{"w":10,"n":8,"s":4,"x":9.124,"y":0.005,"e":0.004},{"w":10,"n":8,"s":4,"x":11.09,"y":0.005,"e":0.004},{"w":10,"n":8,"s":4,"x":13.43,"y":0.005,"e":0.004},{"w":10,"n":8,"s":4,"x":16.33,"y":0.005,"e":0.004},{"w":10,"n":8,"s":4,"x":19.78,"y":0.005,"e":0.004},
{"w":10,"n":8,"s":5,"x":0.5,"y":0.001,"e":0.001},{"w":10,"n":8,"s":5,"x":0.6,"y":0.001,"e":0.001},{"w":10,"n":8,"s":5,"x":0.701,"y":0.001,"e":0.001},{"w":10,"n":8,"s":5,"x":0.898,"y":0.001,"e":0.001},{"w":10,"n":8,"s":5,"x":1.093,"y":0.001,"e":0.001},{"w":10,"n":8,"s":5,"x":1.302,"y":0.001,"e":0.001},{"w":10,"n":8,"s":5,"x":1.572,"y":0.001,"e":0.001},{"w":10,"n":8,"s":5,"x":1.892,"y":0.001,"e":0.001},{"w":10,"n":8,"s":5,"x":2.387,"y":0.013,"e":0.01},{"w":10,"n":8,"s":5,"x":2.884,"y":0.243,"e":0.02},{"w":10,"n":8,"s":5,"x":3.494,"y":0.614,"e":0.02},{"w":10,"n":8,"s":5,"x":4.173,"y":0.918,"e":0.07},{"w":10,"n":8,"s":5,"x":5.077,"y":0.664,"e":0.025},{"w":10,"n":8,"s":5,"x":6.151,"y":0.243,"e":0.03},{"w":10,"n":8,"s":5,"x":7.574,"y":0.01,"e":0.008},{"w":10,"n":8,"s":5,"x":9.124,"y":0.005,"e":0.004},{"w":10,"n":8,"s":5,"x":11.09,"y":0.005,"e":0.004},{"w":10,"n":8,"s":5,"x":13.43,"y":0.005,"e":0.004},{"w":10,"n":8,"s":5,"x":16.33,"y":0.005,"e":0.004},{"w":10,"n":8,"s":5,"x":19.78,"y":0.005,"e":0.004},
{"w":10,"n":8,"s":6,"x":0.5,"y":0.001,"e":0.001},{"w":10,"n":8,"s":6,"x":0.6,"y":0.001,"e":0.001},{"w":10,"n":8,"s":6,"x":0.701,"y":0.001,"e":0.001},{"w":10,"n":8,"s":6,"x":0.898,"y":0.001,"e":0.001},{"w":10,"n":8,"s":6,"x":1.093,"y":0.001,"e":0.001},{"w":10,"n":8,"s":6,"x":1.302,"y":0.001,"e":0.001},{"w":10,"n":8,"s":6,"x":1.572,"y":0.001,"e":0.001},{"w":10,"n":8,"s":6,"x":1.892,"y":0.001,"e":0.001},{"w":10,"n":8,"s":6,"x":2.387,"y":0.001,"e":0.001},{"w":10,"n":8,"s":6,"x":2.884,"y":0.001,"e":0.001},{"w":10,"n":8,"s":6,"x":3.494,"y":0.001,"e":0.001},{"w":10,"n":8,"s":6,"x":4.173,"y":0.035,"e":0.01},{"w":10,"n":8,"s":6,"x":5.077,"y":0.327,"e":0.02},{"w":10,"n":8,"s":6,"x":6.151,"y":0.73,"e":0.015},{"w":10,"n":8,"s":6,"x":7.574,"y":0.864,"e":0.02},{"w":10,"n":8,"s":6,"x":9.124,"y":0.52,"e":0.03},{"w":10,"n":8,"s":6,"x":11.09,"y":0.075,"e":0.02},{"w":10,"n":8,"s":6,"x":13.43,"y":0.005,"e":0.004},{"w":10,"n":8,"s":6,"x":16.33,"y":0.005,"e":0.004},{"w":10,"n":8,"s":6,"x":19.78,"y":0.005,"e":0.004},
{"w":10,"n":8,"s":7,"x":0.5,"y":0.001,"e":0.001},{"w":10,"n":8,"s":7,"x":0.6,"y":0.001,"e":0.001},{"w":10,"n":8,"s":7,"x":0.701,"y":0.001,"e":0.001},{"w":10,"n":8,"s":7,"x":0.898,"y":0.001,"e":0.001},{"w":10,"n":8,"s":7,"x":1.093,"y":0.001,"e":0.001},{"w":10,"n":8,"s":7,"x":1.302,"y":0.001,"e":0.001},{"w":10,"n":8,"s":7,"x":1.572,"y":0.001,"e":0.001},{"w":10,"n":8,"s":7,"x":1.892,"y":0.001,"e":0.001},{"w":10,"n":8,"s":7,"x":2.387,"y":0.001,"e":0.001},{"w":10,"n":8,"s":7,"x":2.884,"y":0.001,"e":0.001},{"w":10,"n":8,"s":7,"x":3.494,"y":0.001,"e":0.001},{"w":10,"n":8,"s":7,"x":4.173,"y":0.001,"e":0.001},{"w":10,"n":8,"s":7,"x":5.077,"y":0.001,"e":0.001},{"w":10,"n":8,"s":7,"x":6.151,"y":0.001,"e":0.001},{"w":10,"n":8,"s":7,"x":7.574,"y":0.123,"e":0.015},{"w":10,"n":8,"s":7,"x":9.124,"y":0.475,"e":0.02},{"w":10,"n":8,"s":7,"x":11.09,"y":0.892,"e":0.02},{"w":10,"n":8,"s":7,"x":13.43,"y":0.763,"e":0.02},{"w":10,"n":8,"s":7,"x":16.33,"y":0.406,"e":0.03},{"w":10,"n":8,"s":7,"x":19.78,"y":0.01,"e":0.008},
{"w":10,"n":8,"s":8,"x":0.5,"y":0.001,"e":0.001},{"w":10,"n":8,"s":8,"x":0.6,"y":0.001,"e":0.001},{"w":10,"n":8,"s":8,"x":0.701,"y":0.001,"e":0.001},{"w":10,"n":8,"s":8,"x":0.898,"y":0.001,"e":0.001},{"w":10,"n":8,"s":8,"x":1.093,"y":0.001,"e":0.001},{"w":10,"n":8,"s":8,"x":1.302,"y":0.001,"e":0.001},{"w":10,"n":8,"s":8,"x":1.572,"y":0.001,"e":0.001},{"w":10,"n":8,"s":8,"x":1.892,"y":0.001,"e":0.001},{"w":10,"n":8,"s":8,"x":2.387,"y":0.001,"e":0.001},{"w":10,"n":8,"s":8,"x":2.884,"y":0.001,"e":0.001},{"w":10,"n":8,"s":8,"x":3.494,"y":0.001,"e":0.001},{"w":10,"n":8,"s":8,"x":4.173,"y":0.001,"e":0.001},{"w":10,"n":8,"s":8,"x":5.077,"y":0.001,"e":0.001},{"w":10,"n":8,"s":8,"x":6.151,"y":0.001,"e":0.001},{"w":10,"n":8,"s":8,"x":7.574,"y":0.001,"e":0.001},{"w":10,"n":8,"s":8,"x":9.124,"y":0.001,"e":0.001},{"w":10,"n":8,"s":8,"x":11.09,"y":0.016,"e":0.01},{"w":10,"n":8,"s":8,"x":13.43,"y":0.226,"e":0.01},{"w":10,"n":8,"s":8,"x":16.33,"y":0.583,"e":0.02},{"w":10,"n":8,"s":8,"x":19.78,"y":0.979,"e":0.01},
{"w":10,"n":8,"s":0,"x":0.5,"y":0.966},{"w":10,"n":8,"s":0,"x":0.6,"y":1.1},{"w":10,"n":8,"s":0,"x":0.701,"y":1.097},{"w":10,"n":8,"s":0,"x":0.898,"y":1.069},{"w":10,"n":8,"s":0,"x":1.093,"y":1.09},{"w":10,"n":8,"s":0,"x":1.302,"y":1.069},{"w":10,"n":8,"s":0,"x":1.572,"y":1.064},{"w":10,"n":8,"s":0,"x":1.892,"y":1.072},{"w":10,"n":8,"s":0,"x":2.387,"y":1.047},{"w":10,"n":8,"s":0,"x":2.884,"y":1.056},{"w":10,"n":8,"s":0,"x":3.494,"y":1.056},{"w":10,"n":8,"s":0,"x":4.173,"y":1.044},{"w":10,"n":8,"s":0,"x":5.077,"y":1.044},{"w":10,"n":8,"s":0,"x":6.151,"y":1.044},{"w":10,"n":8,"s":0,"x":7.574,"y":1.044},{"w":10,"n":8,"s":0,"x":9.124,"y":1.044},{"w":10,"n":8,"s":0,"x":11.09,"y":1.044},{"w":10,"n":8,"s":0,"x":13.43,"y":1.047},{"w":10,"n":8,"s":0,"x":16.33,"y":1.097},{"w":10,"n":8,"s":0,"x":19.78,"y":1.044},

{"w":15,"n":6,"s":1,"x":0.5,"y":0.977,"e":0.01},{"w":15,"n":6,"s":1,"x":0.6,"y":0.278,"e":0.11},{"w":15,"n":6,"s":1,"x":0.701,"y":0.88,"e":0.03},{"w":15,"n":6,"s":1,"x":0.898,"y":0.368,"e":0.04},{"w":15,"n":6,"s":1,"x":1.093,"y":0.011,"e":0.01},{"w":15,"n":6,"s":1,"x":1.302,"y":0.005,"e":0.005},{"w":15,"n":6,"s":1,"x":1.572,"y":0.2,"e":0.47},{"w":15,"n":6,"s":1,"x":1.892,"y":0.302,"e":0.53},{"w":15,"n":6,"s":1,"x":2.387,"y":0.008,"e":0.005},{"w":15,"n":6,"s":1,"x":2.884,"y":0.005,"e":0.005},{"w":15,"n":6,"s":1,"x":3.494,"y":0.005,"e":0.005},{"w":15,"n":6,"s":1,"x":4.173,"y":0.013,"e":0.01},{"w":15,"n":6,"s":1,"x":5.077,"y":0.005,"e":0.005},{"w":15,"n":6,"s":1,"x":6.151,"y":0.005,"e":0.005},{"w":15,"n":6,"s":1,"x":7.574,"y":0.008,"e":0.015},{"w":15,"n":6,"s":1,"x":9.124,"y":0.004,"e":0.004},{"w":15,"n":6,"s":1,"x":11.09,"y":0.004,"e":0.004},{"w":15,"n":6,"s":1,"x":13.43,"y":0.008,"e":0.008},{"w":15,"n":6,"s":1,"x":16.33,"y":0.016,"e":0.09},{"w":15,"n":6,"s":1,"x":19.78,"y":0.008,"e":0.008},
{"w":15,"n":6,"s":2,"x":0.5,"y":0.003,"e":0.003},{"w":15,"n":6,"s":2,"x":0.6,"y":0.078,"e":0.08},{"w":15,"n":6,"s":2,"x":0.701,"y":0.27,"e":0.015},{"w":15,"n":6,"s":2,"x":0.898,"y":0.714,"e":0.015},{"w":15,"n":6,"s":2,"x":1.093,"y":0.993,"e":0.015},{"w":15,"n":6,"s":2,"x":1.302,"y":0.918,"e":0.015},{"w":15,"n":6,"s":2,"x":1.572,"y":0.588,"e":0.224},{"w":15,"n":6,"s":2,"x":1.892,"y":0.479,"e":0.28},{"w":15,"n":6,"s":2,"x":2.387,"y":0.008,"e":0.005},{"w":15,"n":6,"s":2,"x":2.884,"y":0.005,"e":0.005},{"w":15,"n":6,"s":2,"x":3.494,"y":0.005,"e":0.005},{"w":15,"n":6,"s":2,"x":4.173,"y":0.008,"e":0.005},{"w":15,"n":6,"s":2,"x":5.077,"y":0.005,"e":0.005},{"w":15,"n":6,"s":2,"x":6.151,"y":0.008,"e":0.05},{"w":15,"n":6,"s":2,"x":7.574,"y":0.005,"e":0.005},{"w":15,"n":6,"s":2,"x":9.124,"y":0.005,"e":0.005},{"w":15,"n":6,"s":2,"x":11.09,"y":0.005,"e":0.005},{"w":15,"n":6,"s":2,"x":13.43,"y":0.005,"e":0.005},{"w":15,"n":6,"s":2,"x":16.33,"y":0.01,"e":0.02},{"w":15,"n":6,"s":2,"x":19.78,"y":0.005,"e":0.005},
{"w":15,"n":6,"s":3,"x":0.5,"y":0.003,"e":0.003},{"w":15,"n":6,"s":3,"x":0.6,"y":0.044,"e":0.01},{"w":15,"n":6,"s":3,"x":0.701,"y":0.003,"e":0.003},{"w":15,"n":6,"s":3,"x":0.898,"y":0.003,"e":0.003},{"w":15,"n":6,"s":3,"x":1.093,"y":0.041,"e":0.01},{"w":15,"n":6,"s":3,"x":1.302,"y":0.172,"e":0.01},{"w":15,"n":6,"s":3,"x":1.572,"y":0.417,"e":0.04},{"w":15,"n":6,"s":3,"x":1.892,"y":0.446,"e":0.26},{"w":15,"n":6,"s":3,"x":2.387,"y":0.967,"e":0.01},{"w":15,"n":6,"s":3,"x":2.884,"y":0.825,"e":0.01},{"w":15,"n":6,"s":3,"x":3.494,"y":0.564,"e":0.015},{"w":15,"n":6,"s":3,"x":4.173,"y":0.196,"e":0.015},{"w":15,"n":6,"s":3,"x":5.077,"y":0.003,"e":0.003},{"w":15,"n":6,"s":3,"x":6.151,"y":0.003,"e":0.003},{"w":15,"n":6,"s":3,"x":7.574,"y":0.003,"e":0.003},{"w":15,"n":6,"s":3,"x":9.124,"y":0.003,"e":0.003},{"w":15,"n":6,"s":3,"x":11.09,"y":0.003,"e":0.003},{"w":15,"n":6,"s":3,"x":13.43,"y":0.003,"e":0.003},{"w":15,"n":6,"s":3,"x":16.33,"y":0.003,"e":0.003},{"w":15,"n":6,"s":3,"x":19.78,"y":0.003,"e":0.003},
{"w":15,"n":6,"s":4,"x":0.5,"y":0.003,"e":0.003},{"w":15,"n":6,"s":4,"x":0.6,"y":0.036,"e":0.02},{"w":15,"n":6,"s":4,"x":0.701,"y":0.003,"e":0.003},{"w":15,"n":6,"s":4,"x":0.898,"y":0.003,"e":0.003},{"w":15,"n":6,"s":4,"x":1.093,"y":0.003,"e":0.003},{"w":15,"n":6,"s":4,"x":1.302,"y":0.003,"e":0.003},{"w":15,"n":6,"s":4,"x":1.572,"y":0.003,"e":0.003},{"w":15,"n":6,"s":4,"x":1.892,"y":0.02,"e":0.01},{"w":15,"n":6,"s":4,"x":2.387,"y":0.052,"e":0.01},{"w":15,"n":6,"s":4,"x":2.884,"y":0.234,"e":0.01},{"w":15,"n":6,"s":4,"x":3.494,"y":0.49,"e":0.01},{"w":15,"n":6,"s":4,"x":4.173,"y":0.812,"e":0.01},{"w":15,"n":6,"s":4,"x":5.077,"y":0.948,"e":0.01},{"w":15,"n":6,"s":4,"x":6.151,"y":0.771,"e":0.015},{"w":15,"n":6,"s":4,"x":7.574,"y":0.469,"e":0.01},{"w":15,"n":6,"s":4,"x":9.124,"y":0.077,"e":0.015},{"w":15,"n":6,"s":4,"x":11.09,"y":0.003,"e":0.003},{"w":15,"n":6,"s":4,"x":13.43,"y":0.003,"e":0.003},{"w":15,"n":6,"s":4,"x":16.33,"y":0.003,"e":0.003},{"w":15,"n":6,"s":4,"x":19.78,"y":0.003,"e":0.003},
{"w":15,"n":6,"s":5,"x":0.5,"y":0.003,"e":0.003},{"w":15,"n":6,"s":5,"x":0.6,"y":0.016,"e":0.01},{"w":15,"n":6,"s":5,"x":0.701,"y":0.003,"e":0.003},{"w":15,"n":6,"s":5,"x":0.898,"y":0.003,"e":0.003},{"w":15,"n":6,"s":5,"x":1.093,"y":0.003,"e":0.003},{"w":15,"n":6,"s":5,"x":1.302,"y":0.003,"e":0.003},{"w":15,"n":6,"s":5,"x":1.572,"y":0.003,"e":0.003},{"w":15,"n":6,"s":5,"x":1.892,"y":0.025,"e":0.04},{"w":15,"n":6,"s":5,"x":2.387,"y":0.008,"e":0.005},{"w":15,"n":6,"s":5,"x":2.884,"y":0.003,"e":0.003},{"w":15,"n":6,"s":5,"x":3.494,"y":0.003,"e":0.003},{"w":15,"n":6,"s":5,"x":4.173,"y":0.003,"e":0.003},{"w":15,"n":6,"s":5,"x":5.077,"y":0.07,"e":0.01},{"w":15,"n":6,"s":5,"x":6.151,"y":0.275,"e":0.01},{"w":15,"n":6,"s":5,"x":7.574,"y":0.567,"e":0.01},{"w":15,"n":6,"s":5,"x":9.124,"y":0.918,"e":0.01},{"w":15,"n":6,"s":5,"x":11.09,"y":0.887,"e":0.01},{"w":15,"n":6,"s":5,"x":13.43,"y":0.657,"e":0.01},{"w":15,"n":6,"s":5,"x":16.33,"y":0.332,"e":0.025},{"w":15,"n":6,"s":5,"x":19.78,"y":0.008,"e":0.008},
{"w":15,"n":6,"s":6,"x":0.5,"y":0.002,"e":0.002},{"w":15,"n":6,"s":6,"x":0.6,"y":0.002,"e":0.002},{"w":15,"n":6,"s":6,"x":0.701,"y":0.002,"e":0.002},{"w":15,"n":6,"s":6,"x":0.898,"y":0.002,"e":0.002},{"w":15,"n":6,"s":6,"x":1.093,"y":0.002,"e":0.002},{"w":15,"n":6,"s":6,"x":1.302,"y":0.002,"e":0.002},{"w":15,"n":6,"s":6,"x":1.572,"y":0.002,"e":0.002},{"w":15,"n":6,"s":6,"x":1.892,"y":0.002,"e":0.002},{"w":15,"n":6,"s":6,"x":2.387,"y":0.002,"e":0.002},{"w":15,"n":6,"s":6,"x":2.884,"y":0.002,"e":0.002},{"w":15,"n":6,"s":6,"x":3.494,"y":0.002,"e":0.002},{"w":15,"n":6,"s":6,"x":4.173,"y":0.002,"e":0.002},{"w":15,"n":6,"s":6,"x":5.077,"y":0.002,"e":0.002},{"w":15,"n":6,"s":6,"x":6.151,"y":0.002,"e":0.002},{"w":15,"n":6,"s":6,"x":7.574,"y":0.002,"e":0.002},{"w":15,"n":6,"s":6,"x":9.124,"y":0.008,"e":0.005},{"w":15,"n":6,"s":6,"x":11.09,"y":0.134,"e":0.01},{"w":15,"n":6,"s":6,"x":13.43,"y":0.371,"e":0.01},{"w":15,"n":6,"s":6,"x":16.33,"y":0.673,"e":0.01},{"w":15,"n":6,"s":6,"x":19.78,"y":0.993,"e":0.005},
{"w":15,"n":6,"s":0,"x":0.5,"y":0.985},{"w":15,"n":6,"s":0,"x":0.6,"y":0.466},{"w":15,"n":6,"s":0,"x":0.701,"y":1.152},{"w":15,"n":6,"s":0,"x":0.898,"y":1.09},{"w":15,"n":6,"s":0,"x":1.093,"y":1.054},{"w":15,"n":6,"s":0,"x":1.302,"y":1.098},{"w":15,"n":6,"s":0,"x":1.572,"y":1.193},{"w":15,"n":6,"s":0,"x":1.892,"y":1.283},{"w":15,"n":6,"s":0,"x":2.387,"y":1.038},{"w":15,"n":6,"s":0,"x":2.884,"y":1.07},{"w":15,"n":6,"s":0,"x":3.494,"y":1.07},{"w":15,"n":6,"s":0,"x":4.173,"y":1.041},{"w":15,"n":6,"s":0,"x":5.077,"y":1.034},{"w":15,"n":6,"s":0,"x":6.151,"y":1.067},{"w":15,"n":6,"s":0,"x":7.574,"y":1.046},{"w":15,"n":6,"s":0,"x":9.124,"y":1.026},{"w":15,"n":6,"s":0,"x":11.09,"y":1.029},{"w":15,"n":6,"s":0,"x":13.43,"y":1.038},{"w":15,"n":6,"s":0,"x":16.33,"y":1.051},{"w":15,"n":6,"s":0,"x":19.78,"y":1.025},

{"w":15,"n":8,"s":1,"x":0.5,"y":0.967,"e":0.01},{"w":15,"n":8,"s":1,"x":0.6,"y":0.898,"e":0.05},{"w":15,"n":8,"s":1,"x":0.701,"y":0.595,"e":0.12},{"w":15,"n":8,"s":1,"x":0.898,"y":0.018,"e":0.01},{"w":15,"n":8,"s":1,"x":1.093,"y":0.013,"e":0.015},{"w":15,"n":8,"s":1,"x":1.302,"y":0.046,"e":0.045},{"w":15,"n":8,"s":1,"x":1.572,"y":0.01,"e":0.008},{"w":15,"n":8,"s":1,"x":1.892,"y":0.01,"e":0.008},{"w":15,"n":8,"s":1,"x":2.387,"y":0.01,"e":0.008},{"w":15,"n":8,"s":1,"x":2.884,"y":0.002,"e":0.002},{"w":15,"n":8,"s":1,"x":3.494,"y":0.002,"e":0.002},{"w":15,"n":8,"s":1,"x":4.173,"y":0.005,"e":0.004},{"w":15,"n":8,"s":1,"x":5.077,"y":0.002,"e":0.002},{"w":15,"n":8,"s":1,"x":6.151,"y":0.002,"e":0.002},{"w":15,"n":8,"s":1,"x":7.574,"y":0.002,"e":0.002},{"w":15,"n":8,"s":1,"x":9.124,"y":0.002,"e":0.002},{"w":15,"n":8,"s":1,"x":11.09,"y":0.01,"e":0.01},{"w":15,"n":8,"s":1,"x":13.43,"y":0.095,"e":0.262},{"w":15,"n":8,"s":1,"x":16.33,"y":0.002,"e":0.002},{"w":15,"n":8,"s":1,"x":19.78,"y":0.002,"e":0.002},
{"w":15,"n":8,"s":2,"x":0.5,"y":0.005,"e":0.004},{"w":15,"n":8,"s":2,"x":0.6,"y":0.174,"e":0.03},{"w":15,"n":8,"s":2,"x":0.701,"y":0.475,"e":0.1},{"w":15,"n":8,"s":2,"x":0.898,"y":0.923,"e":0.035},{"w":15,"n":8,"s":2,"x":1.093,"y":0.641,"e":0.03},{"w":15,"n":8,"s":2,"x":1.302,"y":0.215,"e":0.05},{"w":15,"n":8,"s":2,"x":1.572,"y":0.01,"e":0.008},{"w":15,"n":8,"s":2,"x":1.892,"y":0.01,"e":0.008},{"w":15,"n":8,"s":2,"x":2.387,"y":0.013,"e":0.01},{"w":15,"n":8,"s":2,"x":2.884,"y":0.002,"e":0.002},{"w":15,"n":8,"s":2,"x":3.494,"y":0.002,"e":0.002},{"w":15,"n":8,"s":2,"x":4.173,"y":0.002,"e":0.002},{"w":15,"n":8,"s":2,"x":5.077,"y":0.002,"e":0.002},{"w":15,"n":8,"s":2,"x":6.151,"y":0.002,"e":0.002},{"w":15,"n":8,"s":2,"x":7.574,"y":0.002,"e":0.002},{"w":15,"n":8,"s":2,"x":9.124,"y":0.002,"e":0.002},{"w":15,"n":8,"s":2,"x":11.09,"y":0.002,"e":0.002},{"w":15,"n":8,"s":2,"x":13.43,"y":0.02,"e":0.025},{"w":15,"n":8,"s":2,"x":16.33,"y":0.002,"e":0.002},{"w":15,"n":8,"s":2,"x":19.78,"y":0.002,"e":0.002},
{"w":15,"n":8,"s":3,"x":0.5,"y":0.002,"e":0.002},{"w":15,"n":8,"s":3,"x":0.6,"y":0.002,"e":0.002},{"w":15,"n":8,"s":3,"x":0.701,"y":0.01,"e":0.01},{"w":15,"n":8,"s":3,"x":0.898,"y":0.095,"e":0.015},{"w":15,"n":8,"s":3,"x":1.093,"y":0.402,"e":0.01},{"w":15,"n":8,"s":3,"x":1.302,"y":0.767,"e":0.02},{"w":15,"n":8,"s":3,"x":1.572,"y":0.869,"e":0.02},{"w":15,"n":8,"s":3,"x":1.892,"y":0.59,"e":0.025},{"w":15,"n":8,"s":3,"x":2.387,"y":0.03,"e":0.01},{"w":15,"n":8,"s":3,"x":2.884,"y":0.005,"e":0.005},{"w":15,"n":8,"s":3,"x":3.494,"y":0.005,"e":0.005},{"w":15,"n":8,"s":3,"x":4.173,"y":0.005,"e":0.005},{"w":15,"n":8,"s":3,"x":5.077,"y":0.002,"e":0.002},{"w":15,"n":8,"s":3,"x":6.151,"y":0.002,"e":0.002},{"w":15,"n":8,"s":3,"x":7.574,"y":0.002,"e":0.002},{"w":15,"n":8,"s":3,"x":9.124,"y":0.002,"e":0.002},{"w":15,"n":8,"s":3,"x":11.09,"y":0.002,"e":0.002},{"w":15,"n":8,"s":3,"x":13.43,"y":0.013,"e":0.01},{"w":15,"n":8,"s":3,"x":16.33,"y":0.002,"e":0.002},{"w":15,"n":8,"s":3,"x":19.78,"y":0.002,"e":0.002},
{"w":15,"n":8,"s":4,"x":0.5,"y":0.002,"e":0.002},{"w":15,"n":8,"s":4,"x":0.6,"y":0.002,"e":0.002},{"w":15,"n":8,"s":4,"x":0.701,"y":0.002,"e":0.002},{"w":15,"n":8,"s":4,"x":0.898,"y":0.002,"e":0.002},{"w":15,"n":8,"s":4,"x":1.093,"y":0.002,"e":0.002},{"w":15,"n":8,"s":4,"x":1.302,"y":0.002,"e":0.002},{"w":15,"n":8,"s":4,"x":1.572,"y":0.144,"e":0.01},{"w":15,"n":8,"s":4,"x":1.892,"y":0.431,"e":0.01},{"w":15,"n":8,"s":4,"x":2.387,"y":0.952,"e":0.015},{"w":15,"n":8,"s":4,"x":2.884,"y":0.775,"e":0.01},{"w":15,"n":8,"s":4,"x":3.494,"y":0.398,"e":0.015},{"w":15,"n":8,"s":4,"x":4.173,"y":0.013,"e":0.01},{"w":15,"n":8,"s":4,"x":5.077,"y":0.002,"e":0.002},{"w":15,"n":8,"s":4,"x":6.151,"y":0.002,"e":0.002},{"w":15,"n":8,"s":4,"x":7.574,"y":0.002,"e":0.002},{"w":15,"n":8,"s":4,"x":9.124,"y":0.002,"e":0.002},{"w":15,"n":8,"s":4,"x":11.09,"y":0.002,"e":0.002},{"w":15,"n":8,"s":4,"x":13.43,"y":0.002,"e":0.002},{"w":15,"n":8,"s":4,"x":16.33,"y":0.002,"e":0.002},{"w":15,"n":8,"s":4,"x":19.78,"y":0.002,"e":0.002},
{"w":15,"n":8,"s":5,"x":0.5,"y":0.002,"e":0.002},{"w":15,"n":8,"s":5,"x":0.6,"y":0.002,"e":0.002},{"w":15,"n":8,"s":5,"x":0.701,"y":0.002,"e":0.002},{"w":15,"n":8,"s":5,"x":0.898,"y":0.002,"e":0.002},{"w":15,"n":8,"s":5,"x":1.093,"y":0.002,"e":0.002},{"w":15,"n":8,"s":5,"x":1.302,"y":0.002,"e":0.002},{"w":15,"n":8,"s":5,"x":1.572,"y":0.002,"e":0.002},{"w":15,"n":8,"s":5,"x":1.892,"y":0.002,"e":0.002},{"w":15,"n":8,"s":5,"x":2.387,"y":0.013,"e":0.01},{"w":15,"n":8,"s":5,"x":2.884,"y":0.239,"e":0.01},{"w":15,"n":8,"s":5,"x":3.494,"y":0.607,"e":0.01},{"w":15,"n":8,"s":5,"x":4.173,"y":0.964,"e":0.01},{"w":15,"n":8,"s":5,"x":5.077,"y":0.718,"e":0.015},{"w":15,"n":8,"s":5,"x":6.151,"y":0.297,"e":0.015},{"w":15,"n":8,"s":5,"x":7.574,"y":0.002,"e":0.002},{"w":15,"n":8,"s":5,"x":9.124,"y":0.002,"e":0.002},{"w":15,"n":8,"s":5,"x":11.09,"y":0.002,"e":0.002},{"w":15,"n":8,"s":5,"x":13.43,"y":0.002,"e":0.002},{"w":15,"n":8,"s":5,"x":16.33,"y":0.002,"e":0.002},{"w":15,"n":8,"s":5,"x":19.78,"y":0.002,"e":0.002},
{"w":15,"n":8,"s":6,"x":0.5,"y":0.002,"e":0.002},{"w":15,"n":8,"s":6,"x":0.6,"y":0.002,"e":0.002},{"w":15,"n":8,"s":6,"x":0.701,"y":0.002,"e":0.002},{"w":15,"n":8,"s":6,"x":0.898,"y":0.002,"e":0.002},{"w":15,"n":8,"s":6,"x":1.093,"y":0.002,"e":0.002},{"w":15,"n":8,"s":6,"x":1.302,"y":0.002,"e":0.002},{"w":15,"n":8,"s":6,"x":1.572,"y":0.002,"e":0.002},{"w":15,"n":8,"s":6,"x":1.892,"y":0.002,"e":0.002},{"w":15,"n":8,"s":6,"x":2.387,"y":0.002,"e":0.002},{"w":15,"n":8,"s":6,"x":2.884,"y":0.002,"e":0.002},{"w":15,"n":8,"s":6,"x":3.494,"y":0.002,"e":0.002},{"w":15,"n":8,"s":6,"x":4.173,"y":0.013,"e":0.01},{"w":15,"n":8,"s":6,"x":5.077,"y":0.292,"e":0.01},{"w":15,"n":8,"s":6,"x":6.151,"y":0.702,"e":0.01},{"w":15,"n":8,"s":6,"x":7.574,"y":0.898,"e":0.01},{"w":15,"n":8,"s":6,"x":9.124,"y":0.575,"e":0.01},{"w":15,"n":8,"s":6,"x":11.09,"y":0.103,"e":0.01},{"w":15,"n":8,"s":6,"x":13.43,"y":0.005,"e":0.005},{"w":15,"n":8,"s":6,"x":16.33,"y":0.002,"e":0.002},{"w":15,"n":8,"s":6,"x":19.78,"y":0.002,"e":0.002},
{"w":15,"n":8,"s":7,"x":0.5,"y":0.002,"e":0.002},{"w":15,"n":8,"s":7,"x":0.6,"y":0.002,"e":0.002},{"w":15,"n":8,"s":7,"x":0.701,"y":0.002,"e":0.002},{"w":15,"n":8,"s":7,"x":0.898,"y":0.002,"e":0.002},{"w":15,"n":8,"s":7,"x":1.093,"y":0.002,"e":0.002},{"w":15,"n":8,"s":7,"x":1.302,"y":0.002,"e":0.002},{"w":15,"n":8,"s":7,"x":1.572,"y":0.002,"e":0.002},{"w":15,"n":8,"s":7,"x":1.892,"y":0.002,"e":0.002},{"w":15,"n":8,"s":7,"x":2.387,"y":0.002,"e":0.002},{"w":15,"n":8,"s":7,"x":2.884,"y":0.002,"e":0.002},{"w":15,"n":8,"s":7,"x":3.494,"y":0.002,"e":0.002},{"w":15,"n":8,"s":7,"x":4.173,"y":0.002,"e":0.002},{"w":15,"n":8,"s":7,"x":5.077,"y":0.002,"e":0.002},{"w":15,"n":8,"s":7,"x":6.151,"y":0.002,"e":0.002},{"w":15,"n":8,"s":7,"x":7.574,"y":0.098,"e":0.01},{"w":15,"n":8,"s":7,"x":9.124,"y":0.431,"e":0.01},{"w":15,"n":8,"s":7,"x":11.09,"y":0.877,"e":0.01},{"w":15,"n":8,"s":7,"x":13.43,"y":0.751,"e":0.075},{"w":15,"n":8,"s":7,"x":16.33,"y":0.415,"e":0.01},{"w":15,"n":8,"s":7,"x":19.78,"y":0.002,"e":0.002},
{"w":15,"n":8,"s":8,"x":0.5,"y":0.002,"e":0.002},{"w":15,"n":8,"s":8,"x":0.6,"y":0.002,"e":0.002},{"w":15,"n":8,"s":8,"x":0.701,"y":0.002,"e":0.002},{"w":15,"n":8,"s":8,"x":0.898,"y":0.002,"e":0.002},{"w":15,"n":8,"s":8,"x":1.093,"y":0.002,"e":0.002},{"w":15,"n":8,"s":8,"x":1.302,"y":0.002,"e":0.002},{"w":15,"n":8,"s":8,"x":1.572,"y":0.002,"e":0.002},{"w":15,"n":8,"s":8,"x":1.892,"y":0.002,"e":0.002},{"w":15,"n":8,"s":8,"x":2.387,"y":0.002,"e":0.002},{"w":15,"n":8,"s":8,"x":2.884,"y":0.002,"e":0.002},{"w":15,"n":8,"s":8,"x":3.494,"y":0.002,"e":0.002},{"w":15,"n":8,"s":8,"x":4.173,"y":0.002,"e":0.002},{"w":15,"n":8,"s":8,"x":5.077,"y":0.002,"e":0.002},{"w":15,"n":8,"s":8,"x":6.151,"y":0.002,"e":0.002},{"w":15,"n":8,"s":8,"x":7.574,"y":0.002,"e":0.002},{"w":15,"n":8,"s":8,"x":9.124,"y":0.002,"e":0.002},{"w":15,"n":8,"s":8,"x":11.09,"y":0.01,"e":0.01},{"w":15,"n":8,"s":8,"x":13.43,"y":0.226,"e":0.04},{"w":15,"n":8,"s":8,"x":16.33,"y":0.579,"e":0.01},{"w":15,"n":8,"s":8,"x":19.78,"y":0.992,"e":0.005},
{"w":15,"n":8,"s":0,"x":0.5,"y":0.984},{"w":15,"n":8,"s":0,"x":0.6,"y":1.087},{"w":15,"n":8,"s":0,"x":0.701,"y":1.098},{"w":15,"n":8,"s":0,"x":0.898,"y":1.057},{"w":15,"n":8,"s":0,"x":1.093,"y":1.075},{"w":15,"n":8,"s":0,"x":1.302,"y":1.049},{"w":15,"n":8,"s":0,"x":1.572,"y":1.046},{"w":15,"n":8,"s":0,"x":1.892,"y":1.059},{"w":15,"n":8,"s":0,"x":2.387,"y":1.026},{"w":15,"n":8,"s":0,"x":2.884,"y":1.043},{"w":15,"n":8,"s":0,"x":3.494,"y":1.043},{"w":15,"n":8,"s":0,"x":4.173,"y":1.025},{"w":15,"n":8,"s":0,"x":5.077,"y":1.041},{"w":15,"n":8,"s":0,"x":6.151,"y":1.033},{"w":15,"n":8,"s":0,"x":7.574,"y":1.025},{"w":15,"n":8,"s":0,"x":9.124,"y":1.03},{"w":15,"n":8,"s":0,"x":11.09,"y":1.03},{"w":15,"n":8,"s":0,"x":13.43,"y":1.123},{"w":15,"n":8,"s":0,"x":16.33,"y":1.025},{"w":15,"n":8,"s":0,"x":19.78,"y":1.025},

{"w":5,"n":6,"s":9,"x":0.5},{"w":5,"n":6,"s":9,"x":1.004},{"w":5,"n":6,"s":9,"x":2.195},{"w":5,"n":6,"s":9,"x":4.62},{"w":5,"n":6,"s":9,"x":9.59},{"w":5,"n":6,"s":9,"x":19.78},
{"w":10,"n":6,"s":9,"x":0.5},{"w":10,"n":6,"s":9,"x":1.004},{"w":10,"n":6,"s":9,"x":2.195},{"w":10,"n":6,"s":9,"x":4.62},{"w":10,"n":6,"s":9,"x":9.59},{"w":10,"n":6,"s":9,"x":19.78},
{"w":15,"n":6,"s":9,"x":0.5},{"w":15,"n":6,"s":9,"x":1.004},{"w":15,"n":6,"s":9,"x":2.195},{"w":15,"n":6,"s":9,"x":4.62},{"w":15,"n":6,"s":9,"x":9.59},{"w":15,"n":6,"s":9,"x":19.78},
{"w":5,"n":8,"s":9,"x":0.5},{"w":5,"n":8,"s":9,"x":0.799},{"w":5,"n":8,"s":9,"x":1.393},{"w":5,"n":8,"s":9,"x":2.387},{"w":5,"n":8,"s":9,"x":4.107},{"w":5,"n":8,"s":9,"x":6.92},{"w":5,"n":8,"s":9,"x":11.66},{"w":5,"n":8,"s":9,"x":19.78},
{"w":10,"n":8,"s":9,"x":0.5},{"w":10,"n":8,"s":9,"x":0.799},{"w":10,"n":8,"s":9,"x":1.393},{"w":10,"n":8,"s":9,"x":2.387},{"w":10,"n":8,"s":9,"x":4.107},{"w":10,"n":8,"s":9,"x":6.92},{"w":10,"n":8,"s":9,"x":11.66},{"w":10,"n":8,"s":9,"x":19.78},
{"w":15,"n":8,"s":9,"x":0.5},{"w":15,"n":8,"s":9,"x":0.799},{"w":15,"n":8,"s":9,"x":1.393},{"w":15,"n":8,"s":9,"x":2.387},{"w":15,"n":8,"s":9,"x":4.107},{"w":15,"n":8,"s":9,"x":6.92},{"w":15,"n":8,"s":9,"x":11.66},{"w":15,"n":8,"s":9,"x":19.78}
  ]},
  "facet": {
    "row": {
      "field": "w", "type": "ordinal",
      "header": {
        "title": null,
        "labelExpr": "datum.value + '×' + datum.value + ' SH-WFS'",
        "labelAngle": -90, "labelOrient": "left",
        "labelFont": "DejaVu Serif", "labelFontSize": 14, "labelColor": "black", "labelPadding": -3
      }
    },
    "column": {
      "field": "n", "type": "ordinal",
      "header": {
        "title": null,
        "labelExpr": "datum.value + ' layers reconstructed'",
        "labelFont": "DejaVu Serif", "labelFontSize": 17, "labelColor": "black", "labelPadding": 1
      }
    }
  },
  "spacing": {"row": 0, "column": 0},
  "spec": {
    "width": 389,
    "height": 266,
    "encoding": {
      "x": {
        "field": "x", "type": "quantitative",
        "scale": {"type": "log", "base": 2, "domain": [0.447, 22.65], "nice": false},
        "axis": {
          "title": "Propagation distance from input layer [km]",
          "values": [0.5, 1, 2, 4, 8, 16],
          "labelExpr": "datum.value == 0.5 ? '2⁻¹' : datum.value == 1 ? '2⁰' : datum.value == 2 ? '2¹' : datum.value == 4 ? '2²' : datum.value == 8 ? '2³' : '2⁴'",
          "grid": false, "tickSize": 3, "labelPadding": 1, "titlePadding": 3, "labelFlush": false
        }
      }
    },
    "layer": [
      {
        "transform": [{"filter": "datum.s == 9"}],
        "mark": {"type": "rule", "color": "#9a9a9a", "strokeDash": [1.5, 2], "strokeWidth": 1}
      },
      {
        "transform": [{"filter": "datum.s >= 1 && datum.s <= 8"}],
        "mark": {"type": "errorbar", "ticks": true, "size": 7, "thickness": 1, "opacity": 0.7, "clip": true},
        "encoding": {
          "y": {
            "field": "y", "type": "quantitative", "scale": {"domain": [0, 1.3], "nice": false},
            "axis": {
              "title": null, "values": [0, 0.2, 0.4, 0.6, 0.8, 1, 1.2], "format": ".1f",
              "grid": true, "gridColor": "#9a9a9a", "gridDash": [1.5, 2], "gridWidth": 1,
              "gridOpacity": {"condition": {"test": "datum.value == 1", "value": 1}, "value": 0}
            }
          },
          "yError": {"field": "e"},
          "color": {"field": "s", "type": "nominal", "legend": null,
            "scale": {"domain": [1, 2, 3, 4, 5, 6, 7, 8], "range": ["#1f77b4", "#ff7f0e", "#2ca02c", "#d62728", "#9467bd", "#8c564b", "#e377c2", "#7f7f7f"]}}
        }
      },
      {
        "transform": [{"filter": "datum.s >= 1 && datum.s <= 8"}],
        "mark": {"type": "line", "strokeWidth": 1},
        "encoding": {
          "y": {
            "field": "y", "type": "quantitative", "scale": {"domain": [0, 1.3], "nice": false},
            "axis": {
              "title": null, "values": [0, 0.2, 0.4, 0.6, 0.8, 1, 1.2], "format": ".1f",
              "grid": true, "gridColor": "#9a9a9a", "gridDash": [1.5, 2], "gridWidth": 1,
              "gridOpacity": {"condition": {"test": "datum.value == 1", "value": 1}, "value": 0}
            }
          },
          "color": {"field": "s", "type": "nominal", "legend": null,
            "scale": {"domain": [1, 2, 3, 4, 5, 6, 7, 8], "range": ["#1f77b4", "#ff7f0e", "#2ca02c", "#d62728", "#9467bd", "#8c564b", "#e377c2", "#7f7f7f"]}}
        }
      },
      {
        "transform": [{"filter": "datum.s >= 1 && datum.s <= 8"}],
        "mark": {"type": "point", "filled": true, "size": 18, "opacity": 1},
        "encoding": {
          "y": {
            "field": "y", "type": "quantitative", "scale": {"domain": [0, 1.3], "nice": false},
            "axis": {
              "title": null, "values": [0, 0.2, 0.4, 0.6, 0.8, 1, 1.2], "format": ".1f",
              "grid": true, "gridColor": "#9a9a9a", "gridDash": [1.5, 2], "gridWidth": 1,
              "gridOpacity": {"condition": {"test": "datum.value == 1", "value": 1}, "value": 0}
            }
          },
          "color": {"field": "s", "type": "nominal", "legend": null,
            "scale": {"domain": [1, 2, 3, 4, 5, 6, 7, 8], "range": ["#1f77b4", "#ff7f0e", "#2ca02c", "#d62728", "#9467bd", "#8c564b", "#e377c2", "#7f7f7f"]}}
        }
      },
      {
        "transform": [{"filter": "datum.s == 0"}],
        "mark": {"type": "line", "color": "black", "strokeWidth": 2.5, "strokeDash": [7, 4]},
        "encoding": {
          "y": {
            "field": "y", "type": "quantitative", "scale": {"domain": [0, 1.3], "nice": false},
            "axis": {
              "title": null, "values": [0, 0.2, 0.4, 0.6, 0.8, 1, 1.2], "format": ".1f",
              "grid": true, "gridColor": "#9a9a9a", "gridDash": [1.5, 2], "gridWidth": 1,
              "gridOpacity": {"condition": {"test": "datum.value == 1", "value": 1}, "value": 0}
            }
          }
        }
      }
    ]
  }
}
